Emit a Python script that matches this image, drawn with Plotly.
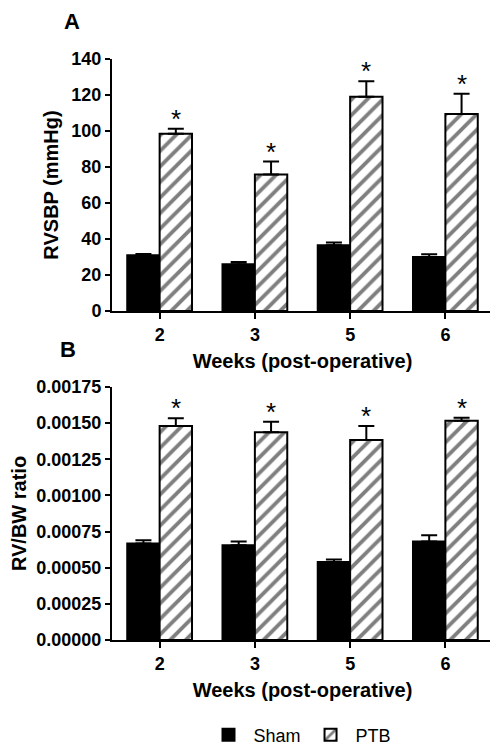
import plotly.graph_objects as go

weeks = ["2", "3", "5", "6"]
rvsbp_sham = [31, 26, 36.5, 30]
rvsbp_sham_err = [0.7, 1.2, 1.6, 1.5]
rvsbp_ptb = [98.5, 75.8, 119, 109.5]
rvsbp_ptb_err = [2.8, 7.2, 8.6, 11.2]

ratio_sham = [0.000668, 0.000656, 0.000539, 0.000682]
ratio_sham_err = [0.000022, 0.000025, 0.000018, 0.000043]
ratio_ptb = [0.00148, 0.001437, 0.001384, 0.001517]
ratio_ptb_err = [0.000054, 0.000073, 0.000097, 0.000021]

FONT = "Liberation Sans"
pos = list(range(len(weeks)))
BW = 0.34

# page has an 8px body margin; map page pixels to figure paper coordinates
W, H, OFF = 490, 739, 8
def px(x):
    return (x - OFF) / W
def py(y):
    return 1 - (y - OFF) / H

fig = go.Figure()

def add_panel(sham, sham_err, ptb, ptb_err, xa, ya, show):
    fig.add_trace(go.Bar(
        x=pos, y=sham, width=BW, offset=-BW, name="Sham", showlegend=show,
        marker=dict(color="black", line=dict(color="black", width=2)),
        error_y=dict(type="data", symmetric=False, array=sham_err,
                     arrayminus=[0] * len(sham), color="black", thickness=2, width=8),
        xaxis=xa, yaxis=ya))
    fig.add_trace(go.Bar(
        x=pos, y=ptb, width=BW, offset=0, name="PTB", showlegend=show,
        marker=dict(color="white", line=dict(color="black", width=2),
                    pattern=dict(shape="/", fgcolor="black", bgcolor="white",
                                 size=11, solidity=0.35)),
        error_y=dict(type="data", symmetric=False, array=ptb_err,
                     arrayminus=[0] * len(ptb), color="black", thickness=2, width=8),
        xaxis=xa, yaxis=ya))

add_panel(rvsbp_sham, rvsbp_sham_err, rvsbp_ptb, rvsbp_ptb_err, "x", "y", True)
add_panel(ratio_sham, ratio_sham_err, ratio_ptb, ratio_ptb_err, "x2", "y2", False)

annotations = []
for i in pos:
    annotations.append(dict(x=i + BW / 2, y=rvsbp_ptb[i] + rvsbp_ptb_err[i], xref="x", yref="y",
                             text="*", showarrow=False, yanchor="bottom", yshift=-7,
                             font=dict(family=FONT, size=26, color="black")))
    annotations.append(dict(x=i + BW / 2, y=ratio_ptb[i] + ratio_ptb_err[i], xref="x2", yref="y2",
                             text="*", showarrow=False, yanchor="bottom", yshift=-7,
                             font=dict(family=FONT, size=26, color="black")))
annotations.append(dict(x=px(72), y=1, xref="paper", yref="paper", text="A",
                        showarrow=False, xanchor="center", yanchor="top", borderpad=0,
                        font=dict(family=FONT, size=22, color="black", weight="bold")))
annotations.append(dict(x=px(68), y=py(350), xref="paper", yref="paper", text="B",
                        showarrow=False, xanchor="center", yanchor="middle",
                        font=dict(family=FONT, size=22, color="black", weight="bold")))

tickfont = dict(family=FONT, size=18, color="black", weight="bold")
titlefont = dict(family=FONT, size=20, color="black", weight="bold")

xcommon = dict(tickmode="array", tickvals=pos, ticktext=weeks, range=[-0.5, 3.5],
               showline=True, linecolor="black", linewidth=2, ticks="outside",
               ticklen=6, tickwidth=2, tickcolor="black", tickfont=tickfont,
               showgrid=False, zeroline=False, automargin=False,
               domain=[px(112), px(493)])
ycommon = dict(showline=True, linecolor="black", linewidth=2, ticks="outside",
               ticklen=5, tickwidth=2, tickcolor="black", tickfont=tickfont,
               showgrid=False, zeroline=False, automargin=False)

fig.update_layout(
    width=W, height=H, margin=dict(l=0, r=0, t=0, b=0, autoexpand=False),
    paper_bgcolor="white", plot_bgcolor="white",
    barmode="overlay",
    xaxis=dict(**xcommon, anchor="y",
               title=dict(text="Weeks (post-operative)", font=titlefont, standoff=10)),
    yaxis=dict(**ycommon, range=[0, 140], dtick=20, domain=[py(311), py(59)],
               anchor="x", title=dict(text="RVSBP (mmHg)", font=titlefont, standoff=7)),
    xaxis2=dict(**xcommon, anchor="y2",
                title=dict(text="Weeks (post-operative)", font=titlefont, standoff=10)),
    yaxis2=dict(**ycommon, range=[0, 0.00175], dtick=0.00025, tickformat=".5f",
                domain=[py(640), py(387)], anchor="x2",
                title=dict(text="RV/BW ratio", font=titlefont, standoff=15)),
    legend=dict(orientation="h", x=px(300), y=py(735), xanchor="center", yanchor="middle",
                font=dict(family=FONT, size=18, color="black"), itemwidth=40,
                bgcolor="rgba(0,0,0,0)"),
    annotations=annotations,
)

fig.write_html("out.html")
